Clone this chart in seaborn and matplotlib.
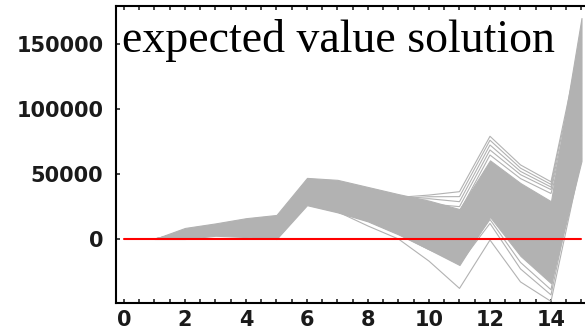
import pandas as pd
import seaborn as sns
import matplotlib.pyplot as plt
from matplotlib.ticker import MultipleLocator

steps = list(range(1, 16))

# dense core of the simulated paths: upper and lower edge at each step
band_upper = [0, 8500, 12000, 16000, 18500, 47000, 45500, 40000, 34500, 29500, 23000, 60500, 43000, 29000, 170000]
band_lower = [0, 0, 2500, 1500, 0, 26000, 20500, 13500, 3500, -8000, -20000, 17000, -13000, -34000, 60000]

# single paths that stray outside the core
outliers = {
    'hi1': [0, 5000, 8000, 10000, 12000, 40000, 38000, 33000, 32000, 33800, 36400, 79000, 57000, 44000, 155000],
    'hi2': [0, 5000, 8000, 10000, 12000, 40000, 38000, 33000, 31000, 32500, 32600, 76000, 54500, 42000, 150000],
    'hi3': [0, 5000, 8000, 10000, 12000, 40000, 38000, 33000, 30000, 31000, 28700, 72300, 52000, 40000, 140000],
    'hi4': [0, 5000, 8000, 10000, 12000, 40000, 38000, 33000, 28000, 27000, 24900, 68500, 49500, 38000, 130000],
    'hi5': [0, 5000, 8000, 10000, 12000, 40000, 38000, 33000, 26000, 25000, 21000, 64600, 46500, 35000, 120000],
    'lo1': [0, 0, 0, 0, 0, 27000, 21000, 10000, 0, -17000, -38000, -800, -33000, -48000, 62000],
    'lo2': [0, 0, 0, 0, 0, 27000, 21000, 14000, 4000, -8000, -19000, 12000, -23000, -43000, 70000],
    'lo3': [0, 0, 0, 0, 0, 27000, 21000, 14000, 4000, -8000, -18000, 15000, -18000, -39000, 80000],
}

zero_x = [0, 15]
zero_y = [0, 0]

rows = []
for name, vals in outliers.items():
    for s, v in zip(steps, vals):
        rows.append({'path': name, 'step': s, 'value': v})
paths = pd.DataFrame(rows)

sns.set_style('ticks')
plt.rcParams['font.family'] = ['DejaVu Sans']

gray = '#b2b2b2'
fig = plt.figure(figsize=(5.85, 3.31), dpi=100)
ax = fig.add_axes([116 / 585, 1 - 303 / 331, 1 - 116 / 585, 297 / 331])

ax.fill_between(steps, band_lower, band_upper, color=gray, edgecolor=gray, linewidth=0.8)
sns.lineplot(data=paths, x='step', y='value', units='path', estimator=None,
             color=gray, linewidth=0.8, ax=ax)
sns.lineplot(x=zero_x, y=zero_y, color='red', linewidth=1.5, ax=ax)

ax.set_xlim(-0.262, 15.115)
ax.set_ylim(-49230, 179230)

ax.xaxis.set_major_locator(MultipleLocator(2))
ax.xaxis.set_minor_locator(MultipleLocator(0.5))
ax.set_yticks([0, 50000, 100000, 150000])
ax.tick_params(axis='both', which='both', direction='in', length=3, width=1.2,
               top=True, labelsize=15, labelcolor='#1a1a1a')
ax.tick_params(axis='x', which='major', pad=5)
ax.tick_params(axis='y', which='major', pad=9)
for lbl in ax.get_xticklabels() + ax.get_yticklabels():
    lbl.set_fontweight('bold')

for side in ['left', 'bottom', 'top']:
    ax.spines[side].set_linewidth(1.5)
    ax.spines[side].set_color('black')
ax.spines['right'].set_visible(False)
ax.set_xlabel('')
ax.set_ylabel('')

fig.text(122 / 585, 1 - 52 / 331, 'expected value solution', family='Liberation Serif',
         fontsize=33, color='black', ha='left', va='baseline')

fig.savefig('out.png', dpi=100)
